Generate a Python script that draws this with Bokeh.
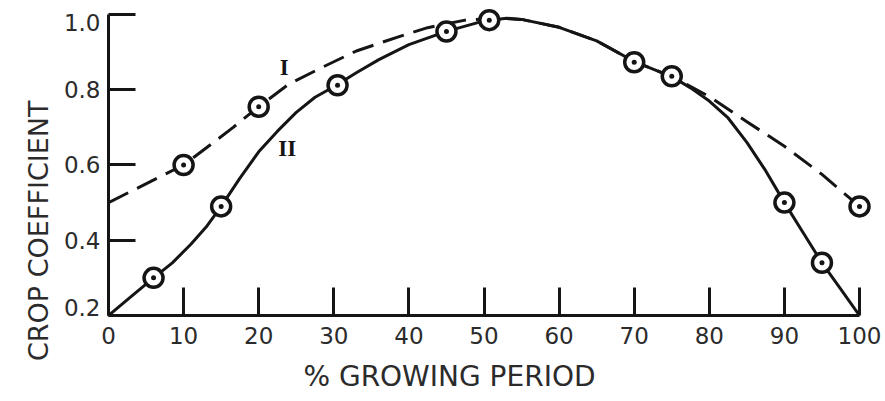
import math
from bokeh.plotting import figure
from bokeh.models import LinearAxis, FixedTicker, Range1d, CustomLabelingPolicy
from bokeh.core.properties import value
from bokeh.embed import file_html
from bokeh.resources import INLINE

# ---- data -------------------------------------------------------------
# Curve I (dashed)
pct_I = [0, 4, 10, 13, 16.6, 20, 24, 28.5, 33, 38.5, 42.5, 47.5, 52, 55, 60, 65, 70, 75, 80, 85, 90, 95, 100]
kc_I = [0.50, 0.54, 0.60, 0.645, 0.70, 0.755, 0.815, 0.86, 0.903, 0.94, 0.965, 0.985, 0.99, 0.987, 0.966,
        0.93, 0.875, 0.835, 0.782, 0.715, 0.65, 0.575, 0.49]

# Curve II (solid)
pct_II = [0, 3, 6, 8.5, 11, 13, 15, 17.5, 20, 22.5, 25, 27.5, 30, 33, 36, 40, 45, 50, 53, 55, 60, 65, 70,
          75, 77.5, 80, 82.5, 85, 87.5, 90, 92.5, 95, 97.5, 100]
kc_II = [0.20, 0.25, 0.30, 0.34, 0.39, 0.435, 0.49, 0.565, 0.635, 0.69, 0.74, 0.78, 0.808, 0.845, 0.88,
         0.92, 0.955, 0.983, 0.99, 0.987, 0.966, 0.93, 0.875, 0.835, 0.805, 0.77, 0.725, 0.66, 0.585,
         0.50, 0.42, 0.34, 0.27, 0.20]

# Observed points (circled dots)
pct_obs = [6, 10, 15, 20, 30.5, 45, 50.7, 70, 75, 90, 95, 100]
kc_obs = [0.30, 0.60, 0.49, 0.755, 0.812, 0.955, 0.985, 0.873, 0.836, 0.50, 0.34, 0.49]

# Curve labels
curve_names = ["I", "II"]
curve_name_x = [23.4, 23.8]
curve_name_y = [0.859, 0.644]

x_ticks = [0, 10, 20, 30, 40, 50, 60, 70, 80, 90, 100]
y_ticks = [0.2, 0.4, 0.6, 0.8, 1.0]
y_tick_labels = ["0.2", "0.4", "0.6", "0.8", "1.0"]
x_title = "% GROWING PERIOD"
y_title = "CROP COEFFICIENT"
# where the (off-centre) axis titles are anchored along their axes, in data units
x_title_at = 45.4
y_title_at = 0.5615

# ---- styling ------------------------------------------------------------
INK = "#151515"
TXT = "#2b2b2b"
FONT = "DejaVu Sans"

p = figure(width=885, height=400,
           x_range=Range1d(0, 103.46), y_range=Range1d(0.2, 1.0372),
           x_axis_type=None, y_axis_type=None,
           output_backend="svg", toolbar_location=None,
           min_border_left=108, min_border_right=0, min_border_top=0, min_border_bottom=85)
p.outline_line_color = None
p.background_fill_color = "white"
p.border_fill_color = "white"

NO_LINES = dict(axis_line_color=None, major_tick_line_color=None, minor_tick_line_color=None,
                major_tick_in=0, major_tick_out=0, minor_tick_in=0, minor_tick_out=0)

# x axis
xax = LinearAxis(ticker=FixedTicker(ticks=x_ticks), bounds=(0, 100),
                 major_tick_in=28, major_tick_out=0, minor_tick_in=0, minor_tick_out=0,
                 axis_line_width=3, major_tick_line_width=3,
                 axis_line_color=INK, major_tick_line_color=INK,
                 major_label_text_font=FONT, major_label_text_font_size="23px",
                 major_label_text_color=TXT, major_label_standoff=11)
# x title, carried by a bare axis so it can sit off-centre like the original
xtitle = LinearAxis(ticker=FixedTicker(ticks=[x_title_at]),
                    major_label_overrides={x_title_at: x_title},
                    major_label_text_font=FONT, major_label_text_font_size="28px",
                    major_label_text_color=TXT, major_label_standoff=13, **NO_LINES)
p.add_layout(xax, "below")
p.add_layout(xtitle, "below")

# y axis: line + ticks (its own labels are not drawn)
yax = LinearAxis(ticker=FixedTicker(ticks=y_ticks), bounds=(0.2, 1.0),
                 major_tick_in=27, major_tick_out=0, minor_tick_in=0, minor_tick_out=0,
                 axis_line_width=3, major_tick_line_width=3,
                 axis_line_color=INK, major_tick_line_color=INK,
                 major_label_text_font_size="0px", major_label_standoff=0,
                 major_label_policy=CustomLabelingPolicy(code="return []"))
# y axis: labels (end labels nudged inward as in the original)
nudge = 0.022
y_label_pos = [t + nudge if t == min(y_ticks) else (t - nudge if t == max(y_ticks) else t) for t in y_ticks]
ylab = LinearAxis(ticker=FixedTicker(ticks=y_label_pos),
                  major_label_overrides={pos: lab for pos, lab in zip(y_label_pos, y_tick_labels)},
                  major_label_text_font=FONT, major_label_text_font_size="23px",
                  major_label_text_color=TXT, major_label_standoff=8, **NO_LINES)
# y title
ytitle = LinearAxis(ticker=FixedTicker(ticks=[y_title_at]),
                    major_label_overrides={y_title_at: y_title},
                    major_label_orientation=math.pi / 2,
                    major_label_text_font=FONT, major_label_text_font_size="27px",
                    major_label_text_color=TXT, major_label_standoff=22, **NO_LINES)
p.add_layout(yax, "left")
p.add_layout(ylab, "left")
p.add_layout(ytitle, "left")

# curves
p.line(pct_I, kc_I, line_color=INK, line_width=3, line_dash="22 10", line_join="round")
p.line(pct_II, kc_II, line_color=INK, line_width=3, line_join="round")

# observed points
p.scatter(pct_obs, kc_obs, marker="circle", size=19, fill_color="white",
          line_color=INK, line_width=3.5)
p.scatter(pct_obs, kc_obs, marker="circle", size=5, fill_color=INK, line_color=None)

# curve names
p.text(x=curve_name_x, y=curve_name_y, text=curve_names,
       text_font=value("Liberation Serif"), text_font_size="23px", text_font_style="bold",
       text_align="center", text_baseline="middle", text_color=INK)

open("out.html", "w").write(file_html(p, INLINE))
